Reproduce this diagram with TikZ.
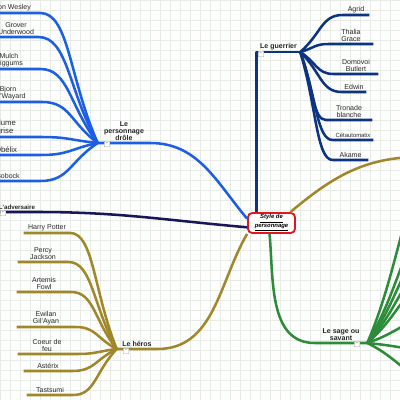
\documentclass[tikz,border=0pt]{standalone}
\usepackage{fontspec}
\setmainfont{Liberation Sans}
\usetikzlibrary{calc}

\newlength\pxu
\setlength\pxu{0.025cm}

\definecolor{drolecol}{RGB}{28,95,228}
\definecolor{guerriercol}{RGB}{12,52,128}
\definecolor{advcol}{RGB}{22,22,88}
\definecolor{heroscol}{RGB}{160,135,42}
\definecolor{sagecol}{RGB}{45,140,58}
\definecolor{rootred}{RGB}{226,22,32}
\definecolor{gridcol}{RGB}{232,236,230}

\begin{document}
\begin{tikzpicture}[x=0.025cm, y=-0.025cm,
    leaf/.style={font=\fontsize{5}{5.2}\selectfont, text=black!85, align=center, inner sep=1.3pt, anchor=south},
    branch/.style={leaf, font=\fontsize{5}{5.2}\selectfont\bfseries},
    fold/.style={draw=black!35, fill=white, line width=0.3pt, rounded corners=0.5pt, minimum size=5.5*\pxu, inner sep=0pt, font=\fontsize{3.5}{3.5}\selectfont},
    root/.style={draw=rootred, line width=1.3pt, fill=white, rounded corners=3pt, minimum width=47*\pxu, minimum height=20*\pxu, inner sep=0pt, align=center, font=\fontsize{4.2}{4.7}\selectfont\bfseries\itshape},
    twig/.style={to path={.. controls ($(\tikztostart)!0.5!(\tikztotarget)$) and ($(\tikztotarget)!0.5!(\tikztotarget -| \tikztostart)$) .. (\tikztotarget)}},
    wire/.style={line width=1.8pt, line join=round}]
    % Background
    \useasboundingbox (0,0) rectangle (400,400);
    \clip (0,0) rectangle (400,400);
    \fill[white] (0,0) rectangle (400,400);
    \draw[gridcol, line width=0.3pt, step=0.25cm] (0,400) grid (400,0);

    % Nodes
    \node[root] (root) at (271.5,223) {\underline{Style de}\\\underline{personnage}};

    \node[branch, minimum width=52*\pxu] (drole) at (124,143) {Le\\personnage\\drôle};
    \node[branch, minimum width=43*\pxu] (guerrier) at (278.5,52) {Le guerrier};
    \node[branch, minimum width=36*\pxu, font=\fontsize{4.4}{5}\selectfont\bfseries] (adversaire) at (17,212) {L'adversaire};
    \node[branch, minimum width=40*\pxu] (heros) at (137,349) {Le héros};
    \node[branch, minimum width=52*\pxu] (sage) at (341,343) {Le sage ou\\savant};

    \node[leaf, minimum width=56*\pxu] (wesley) at (12,13) {Ron Wesley};
    \node[leaf, minimum width=44*\pxu] (grover) at (16,37) {Grover\\Underwood};
    \node[leaf, minimum width=62*\pxu] (mulch) at (9,69) {Mulch\\Diggums};
    \node[leaf, minimum width=68*\pxu] (bjorn) at (8,102) {Bjorn\\Wil'Wayard};
    \node[leaf, minimum width=70*\pxu, font=\fontsize{5.5}{5.8}\selectfont] (plume) at (5,137) {Plume\\grise};
    \node[leaf, minimum width=68*\pxu, font=\fontsize{5.5}{5.8}\selectfont] (obelix) at (6,155) {Obélix};
    \node[leaf, minimum width=64*\pxu] (bobock) at (8,181) {Bobock};

    \node[leaf, minimum width=26*\pxu] (agrid) at (356,15) {Agrid};
    \node[leaf, minimum width=44*\pxu] (thalia) at (351,44) {Thalia\\Grace};
    \node[leaf, minimum width=44*\pxu] (domovoi) at (356,74) {Domovoi\\Butlert};
    \node[leaf, minimum width=24*\pxu] (edwin) at (354,92) {Edwin};
    \node[leaf, minimum width=46*\pxu] (tronade) at (349,120) {Tronade\\blanche};
    \node[leaf, minimum width=40*\pxu, font=\fontsize{4.2}{5}\selectfont] (cetau) at (353,140) {Cétautomatix};
    \node[leaf, minimum width=35*\pxu] (akame) at (350.5,160) {Akame};

    \node[leaf, minimum width=46*\pxu] (harry) at (47,233) {Harry Potter};
    \node[leaf, minimum width=50*\pxu] (percy) at (43,262) {Percy\\Jackson};
    \node[leaf, minimum width=54*\pxu] (artemis) at (44,292) {Artemis\\Fowl};
    \node[leaf, minimum width=58*\pxu] (ewilan) at (46,327) {Ewilan\\Gil'Ayan};
    \node[leaf, minimum width=58*\pxu] (coeur) at (47,354) {Coeur de\\feu};
    \node[leaf, minimum width=48*\pxu] (asterix) at (48,371) {Astérix};
    \node[leaf, minimum width=46*\pxu] (tastsumi) at (50,395) {Tastsumi};

    % branches running off the page
    \coordinate (olivefar) at (420,157);
    \coordinate (g1) at (440,174);
    \coordinate (g2) at (440,224);
    \coordinate (g3) at (440,245);
    \coordinate (g4) at (440,264);
    \coordinate (g5) at (440,281);
    \coordinate (g6) at (440,318);
    \coordinate (g7) at (440,350);
    \coordinate (g8) at (440,379);

    % Edges
    \draw[wire, drolecol] (root.170) to[out=130, in=0] (drole.south east) -- (drole.south west);
    \draw[wire, drolecol] (drole.south west) to[twig] (wesley.south east) -- (wesley.south west);
    \draw[wire, drolecol] (drole.south west) to[twig] (grover.south east) -- (grover.south west);
    \draw[wire, drolecol] (drole.south west) to[twig] (mulch.south east) -- (mulch.south west);
    \draw[wire, drolecol] (drole.south west) to[twig] (bjorn.south east) -- (bjorn.south west);
    \draw[wire, drolecol] (drole.south west) to[twig] (plume.south east) -- (plume.south west);
    \draw[wire, drolecol] (drole.south west) to[twig] (obelix.south east) -- (obelix.south west);
    \draw[wire, drolecol] (drole.south west) to[twig] (bobock.south east) -- (bobock.south west);

    \draw[wire, guerriercol] (root.north -| guerrier.south west) -- (guerrier.south west) -- (guerrier.south east);
    \draw[wire, guerriercol] (guerrier.south east) to[twig] (agrid.south west) -- (agrid.south east);
    \draw[wire, guerriercol] (guerrier.south east) to[twig] (thalia.south west) -- (thalia.south east);
    \draw[wire, guerriercol] (guerrier.south east) to[twig] (domovoi.south west) -- (domovoi.south east);
    \draw[wire, guerriercol] (guerrier.south east) to[twig] (edwin.south west) -- (edwin.south east);
    \draw[wire, guerriercol] (guerrier.south east) to[twig] (tronade.south west) -- (tronade.south east);
    \draw[wire, guerriercol] (guerrier.south east) to[twig] (cetau.south west) -- (cetau.south east);
    \draw[wire, guerriercol] (guerrier.south east) to[twig] (akame.south west) -- (akame.south east);

    \draw[wire, advcol] (root.190) to[out=175, in=0] (adversaire.south east) -- (adversaire.south west);

    \draw[wire, heroscol] (root.south west) to[out=240, in=0] (heros.south east) -- (heros.south west);
    \draw[wire, heroscol] (heros.south west) to[twig] (harry.south east) -- (harry.south west);
    \draw[wire, heroscol] (heros.south west) to[twig] (percy.south east) -- (percy.south west);
    \draw[wire, heroscol] (heros.south west) to[twig] (artemis.south east) -- (artemis.south west);
    \draw[wire, heroscol] (heros.south west) to[twig] (ewilan.south east) -- (ewilan.south west);
    \draw[wire, heroscol] (heros.south west) to[twig] (coeur.south east) -- (coeur.south west);
    \draw[wire, heroscol] (heros.south west) to[twig] (asterix.south east) -- (asterix.south west);
    \draw[wire, heroscol] (heros.south west) to[twig] (tastsumi.south east) -- (tastsumi.south west);
    \draw[wire, heroscol] (root.30) to[out=40, in=180] (olivefar);

    \draw[wire, sagecol] (root.260) to[out=-85, in=180] (sage.south west) -- (sage.south east);
    \draw[wire, sagecol] (sage.south east) to[twig] (g1);
    \draw[wire, sagecol] (sage.south east) to[twig] (g2);
    \draw[wire, sagecol] (sage.south east) to[twig] (g3);
    \draw[wire, sagecol] (sage.south east) to[twig] (g4);
    \draw[wire, sagecol] (sage.south east) to[twig] (g5);
    \draw[wire, sagecol] (sage.south east) to[twig] (g6);
    \draw[wire, sagecol] (sage.south east) to[twig] (g7);
    \draw[wire, sagecol] (sage.south east) to[twig] (g8);

    % fold buttons
    \node[fold] (fdrole) at (107,144) {-};
    \node[fold] (fguerrier) at (261,54) {-};
    \node[fold] (fadversaire) at (3,213) {-};
    \node[fold] (fheros) at (126,351) {-};
    \node[fold] (fsage) at (357,344) {-};
\end{tikzpicture}
\end{document}
